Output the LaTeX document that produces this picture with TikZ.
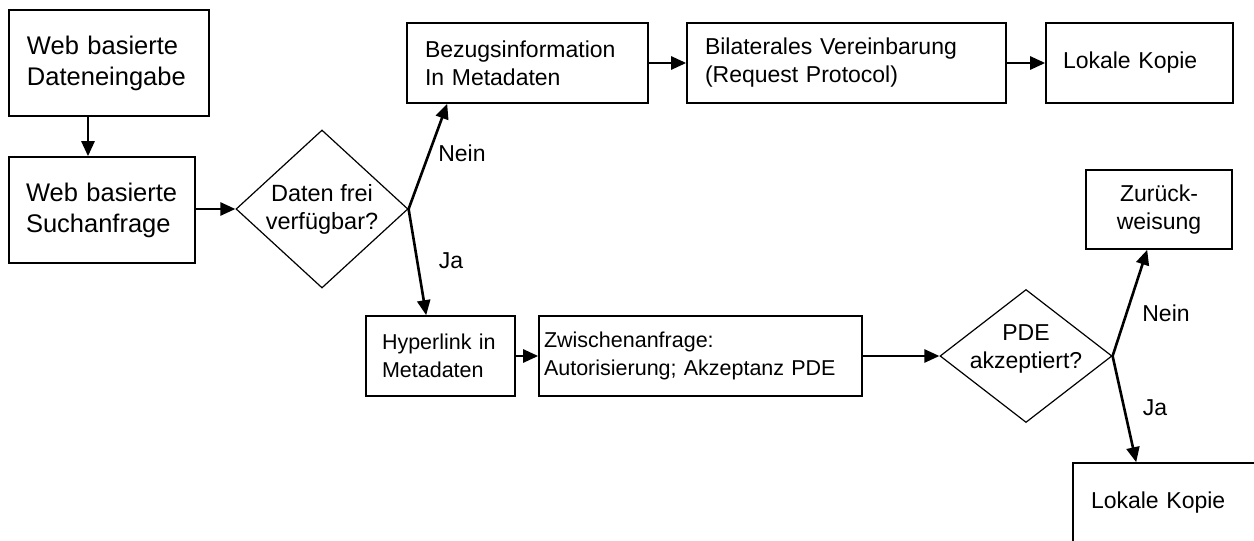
\documentclass[tikz,border=0pt]{standalone}
\usepackage{fontspec}
\setmainfont{Liberation Sans}
\usetikzlibrary{shapes.geometric,arrows.meta,calc}
\begin{document}
\begin{tikzpicture}[x=1pt,y=-1pt,
 box/.style={draw,line width=1.6pt,inner xsep=0pt,inner ysep=0pt,align=left},
 fbig/.style={font=\fontsize{25.5}{31}\selectfont},
 fmid/.style={font=\fontsize{23}{28}\selectfont},
 fsml/.style={font=\fontsize{21.5}{28}\selectfont},
 dia/.style={draw,shape=diamond,line width=1.2pt,inner sep=0pt},
 arr/.style={line width=2.6pt,-{Triangle[length=15pt,width=13pt]}},
 lbl/.style={fmid,inner sep=0pt}]
\clip (0,0) rectangle (1254,541);
% boxes
\node[box,fbig,minimum width=200pt,minimum height=106pt,text width=164pt] (A) at (109,63) {Web basierte\\Dateneingabe};
\node[box,fbig,minimum width=186pt,minimum height=106pt,text width=152pt] (B) at (102,210) {Web basierte\\Suchanfrage};
\node[box,fmid,minimum width=241pt,minimum height=80pt,text width=205pt] (C) at (527.5,63) {Bezugsinformation\\In Metadaten};
\node[box,fmid,minimum width=319pt,minimum height=80pt,text width=283pt] (D) at (846.5,63) {Bilaterales Vereinbarung\\(Request Protocol)};
\node[box,fmid,minimum width=187pt,minimum height=80pt,text width=153pt] (E) at (1139.5,63) {Lokale Kopie};
\node[box,fsml,minimum width=149pt,minimum height=80pt,text width=117pt] (F) at (440.5,356) {Hyperlink in\\Metadaten};
\node[box,fsml,minimum width=323pt,minimum height=80pt,text width=313pt] (G) at (700.5,356) {Zwischenanfrage:\\Autorisierung; Akzeptanz PDE};
\node[box,fmid,align=center,minimum width=146pt,minimum height=79pt,text width=140pt] (H) at (1159,209.5) {Zurück-\\weisung};
\node[box,fmid,minimum width=187pt,minimum height=80pt,text width=151pt] (I) at (1166.5,503) {Lokale Kopie};
% diamonds
\node[dia,minimum width=172pt,minimum height=158pt,label={[font=\fontsize{23.5}{28}\selectfont,align=center]center:Daten frei\\verfügbar?}] (D1) at (322,209) {};
\node[dia,minimum width=172pt,minimum height=133pt,label={[fmid,align=center,yshift=7pt]center:PDE\\akzeptiert?}] (D2) at (1026,356) {};
% connectors
\draw[arr] ([xshift=-21pt]A.south) -- ([xshift=-21pt]A.south |- B.north);
\draw[arr] (B.east |- D1.west) -- (D1.west);
\draw[arr] (D1.east) -- ([xshift=41pt]C.south west);
\draw[arr] (D1.east) -- ([xshift=61pt]F.north west);
\draw[arr] (C.east) -- (D.west);
\draw[arr] (D.east) -- (E.west);
\draw[arr] (F.east) -- (G.west);
\draw[arr] (G.east) -- (D2.west);
\draw[arr] (D2.east) -- ([xshift=62pt]H.south west);
\draw[arr] (D2.east) -- ([xshift=64pt]I.north west);
% labels
\node[lbl] (n1) at (462,153) {Nein};
\node[lbl] (j1) at (451,261) {Ja};
\node[lbl] (n2) at (1166,313) {Nein};
\node[lbl] (j2) at (1155,408) {Ja};
\end{tikzpicture}
\end{document}
